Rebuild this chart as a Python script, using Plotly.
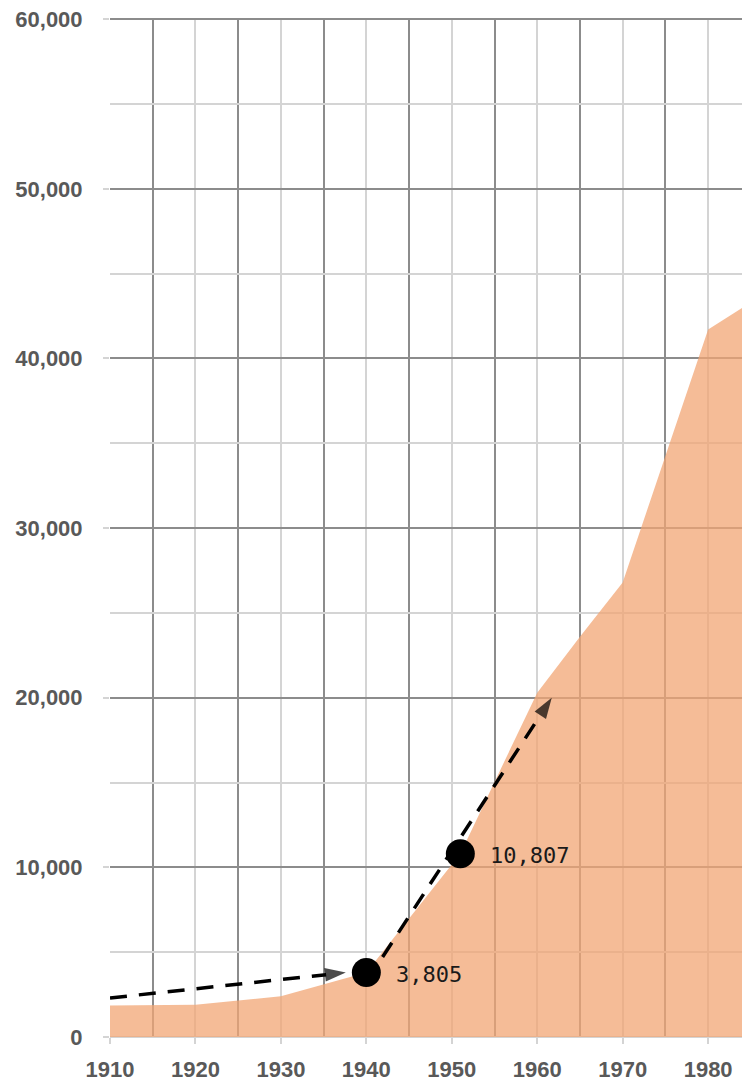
import plotly.graph_objects as go

# Data
years = [1910, 1920, 1930, 1940, 1951, 1960, 1965, 1970, 1980, 1985]
population = [1850, 1900, 2400, 3805, 10807, 20300, 23600, 26800, 41700, 43300]

point_years = [1940, 1951]
point_values = [3805, 10807]
point_labels = ["3,805", "10,807"]

arrow1_x = [1910, 1937.6]
arrow1_y = [2300, 3800]
arrow2_x = [1941.9, 1961.7]
arrow2_y = [4720, 20000]

x_ticks = [1910, 1920, 1930, 1940, 1950, 1960, 1970, 1980]
y_ticks = [0, 10000, 20000, 30000, 40000, 50000, 60000]

fig = go.Figure()

fig.add_trace(go.Scatter(
    x=years, y=population, mode="lines", fill="tozeroy",
    fillcolor="rgba(242,166,116,0.75)", line=dict(width=0, color="rgba(0,0,0,0)"),
    hoverinfo="skip", showlegend=False,
))

for ax_, ay_ in [(arrow1_x, arrow1_y), (arrow2_x, arrow2_y)]:
    fig.add_trace(go.Scatter(
        x=ax_, y=ay_, mode="lines+markers",
        line=dict(color="black", width=3.5, dash="17px,12px"),
        marker=dict(symbol=["circle", "arrow"], size=[0, 22], color="black",
                    angleref="previous", line=dict(width=0)),
        showlegend=False, hoverinfo="skip",
    ))

fig.add_trace(go.Scatter(
    x=point_years, y=point_values, mode="markers",
    marker=dict(size=29, color="black", line=dict(width=0)),
    showlegend=False, hoverinfo="skip",
))

for xv, yv, lab in zip(point_years, point_values, point_labels):
    fig.add_annotation(x=xv, y=yv, text=lab, showarrow=False, xanchor="left",
                       yanchor="middle", xshift=28, yshift=-2,
                       font=dict(family="DejaVu Sans Mono", size=22, color="#1a1a1a"))

tick_font = dict(family="Liberation Sans", size=22, color="#595959", weight="bold")

# the page body adds an 8px offset, so the figure is sized to fit the window
fig.update_layout(
    width=742, height=1073,
    margin=dict(l=102, r=0, t=10, b=44, autoexpand=False),
    plot_bgcolor="white", paper_bgcolor="white",
    xaxis=dict(
        range=[1910, 1984.9], tickvals=x_ticks, ticktext=[str(v) for v in x_ticks],
        showgrid=True, gridcolor="#d4d4d4", gridwidth=2,
        minor=dict(dtick=5, tick0=1905, showgrid=True, gridcolor="#8c8c8c", gridwidth=2),
        ticks="outside", ticklen=6, tickcolor="#d4d4d4", tickwidth=2,
        tickfont=tick_font, ticklabelstandoff=7, ticklabeloverflow="allow",
        zeroline=False, showline=False, fixedrange=True,
    ),
    yaxis=dict(
        range=[0, 60070], tickvals=y_ticks, ticktext=[f"{v:,}" for v in y_ticks],
        showgrid=True, gridcolor="#8c8c8c", gridwidth=2,
        minor=dict(dtick=5000, showgrid=True, gridcolor="#d4d4d4", gridwidth=2),
        ticks="outside", ticklen=6, tickcolor="#d4d4d4", tickwidth=2,
        tickfont=tick_font, ticklabelstandoff=16, ticklabeloverflow="allow",
        zeroline=True, zerolinecolor="#d4d4d4", zerolinewidth=2,
        showline=False, fixedrange=True,
    ),
)

fig.write_html("out.html")
